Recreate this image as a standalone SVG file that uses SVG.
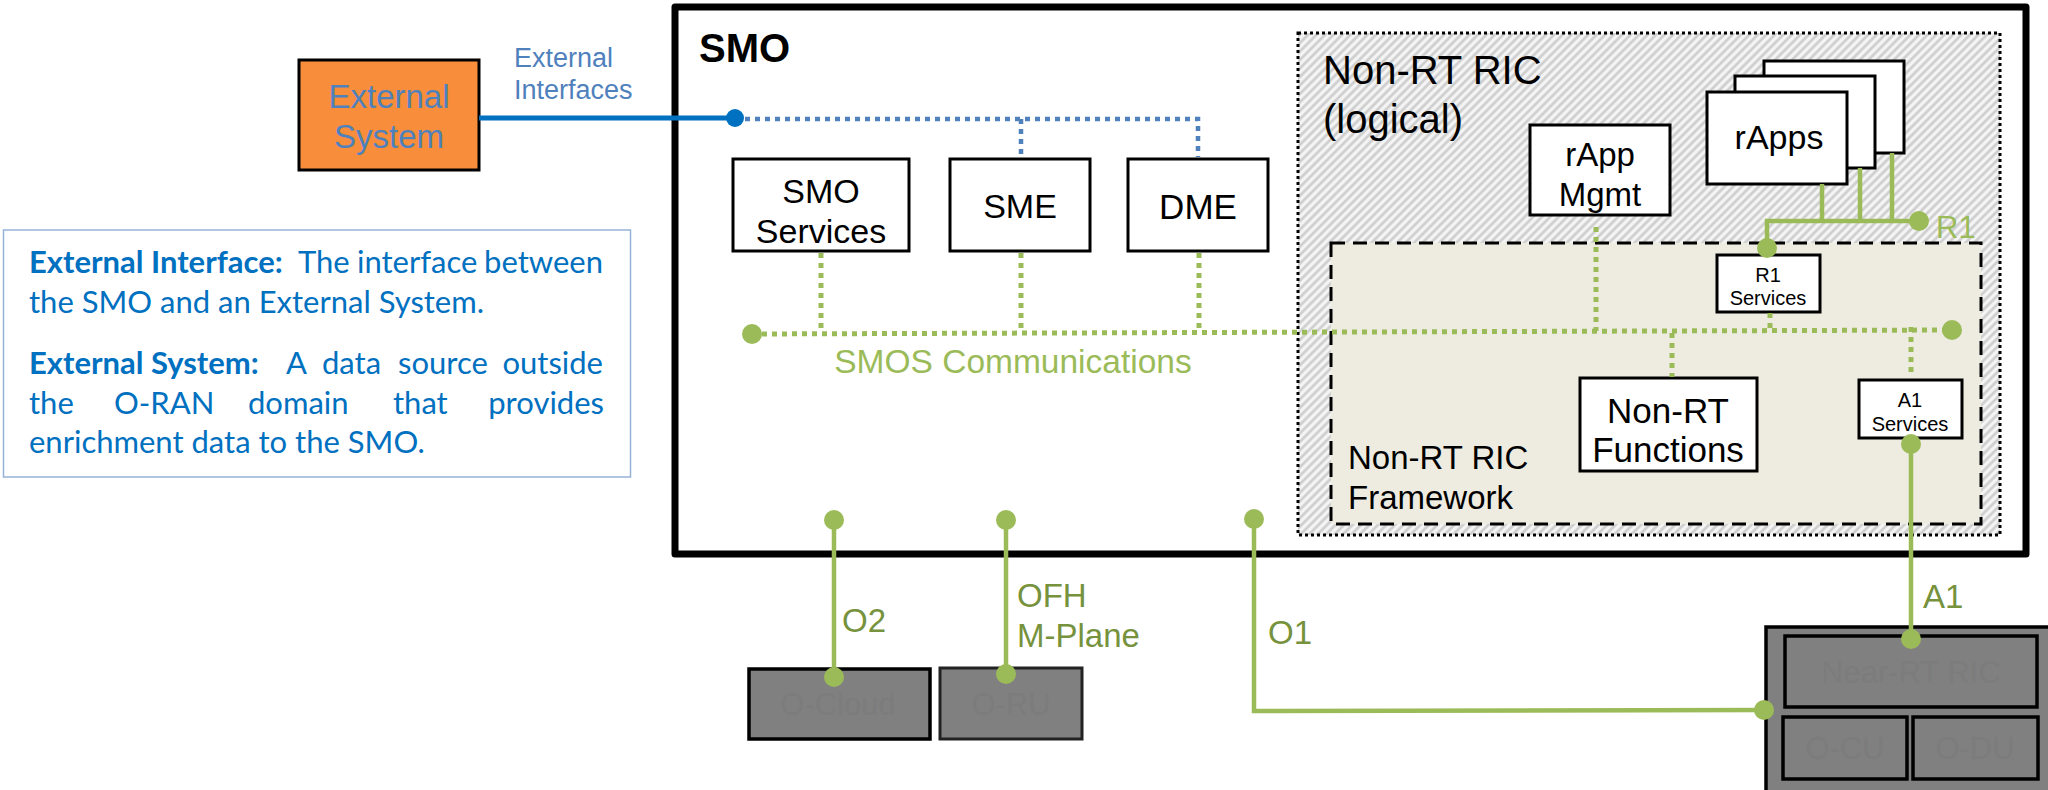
<svg xmlns="http://www.w3.org/2000/svg" width="2048" height="790" viewBox="0 0 2048 790">
<defs>
<pattern id="hatch" width="6" height="6" patternUnits="userSpaceOnUse" patternTransform="rotate(45)">
<rect width="6" height="6" fill="#f4f4f4"/>
<line x1="1.5" y1="0" x2="1.5" y2="6" stroke="#cdcdcd" stroke-width="2.6"/>
</pattern>
</defs>
<style>
.t{font-family:"Liberation Sans",Arial,sans-serif;fill:#000}
.box{fill:#fff;stroke:#000;stroke-width:3}
.gray{fill:#808080;stroke:#000;stroke-width:3.5}
.faint{font-family:"Liberation Sans",Arial,sans-serif;fill:#7c7c7c;font-size:31px;text-anchor:middle}
.gsolid{fill:none;stroke:#9BBB59;stroke-width:4.5}
.gdot{fill:none;stroke:#9BBB59;stroke-width:5;stroke-dasharray:5 5}
.bdot{fill:none;stroke:#4F81BD;stroke-width:4.5;stroke-dasharray:5 5}
.gd{fill:#9BBB59}
.lbl{font-family:"Liberation Sans",Arial,sans-serif;fill:#76923C;font-size:33px}
.desc{font-family:Lato,"Open Sans",sans-serif;fill:#0070C0;font-size:31px}
.c{text-anchor:middle}
</style>

<g id="smo">
<rect x="675" y="7" width="1351" height="547" fill="#fff" stroke="#000" stroke-width="7" stroke-linejoin="round"/>
<text class="t" x="699" y="62" font-size="40" font-weight="bold">SMO</text>
</g>

<g id="non-rt-ric">
<rect x="1298" y="33" width="702" height="502" fill="url(#hatch)" stroke="#000" stroke-width="3" stroke-dasharray="3 3"/>
<text class="t" x="1323" y="84" font-size="40">Non-RT RIC</text>
<text class="t" x="1323" y="133" font-size="40">(logical)</text>
</g>

<g id="non-rt-ric-framework">
<rect x="1331" y="243" width="650" height="281" fill="#EEECE1" stroke="#000" stroke-width="3" stroke-dasharray="14 8"/>
<text class="t" x="1348" y="469" font-size="33">Non-RT RIC</text>
<text class="t" x="1348" y="509" font-size="33">Framework</text>
</g>

<g id="external-system">
<rect x="299" y="60" width="180" height="110" fill="#F88D3B" stroke="#000" stroke-width="3"/>
<text class="t c" x="389" y="108" font-size="33" style="fill:#4F81BD">External</text>
<text class="t c" x="389" y="148" font-size="33" style="fill:#4F81BD">System</text>
</g>

<g id="external-interfaces-label">
<text class="t" x="514" y="67" font-size="27" style="fill:#4F81BD">External</text>
<text class="t" x="514" y="99" font-size="27" style="fill:#4F81BD">Interfaces</text>
</g>

<g id="smo-services">
<rect class="box" x="733" y="159" width="176" height="92"/>
<text class="t c" x="821" y="203" font-size="34">SMO</text>
<text class="t c" x="821" y="243" font-size="34">Services</text>
</g>

<g id="sme">
<rect class="box" x="950" y="159" width="140" height="92"/>
<text class="t c" x="1020" y="218" font-size="34">SME</text>
</g>

<g id="dme">
<rect class="box" x="1128" y="159" width="140" height="92"/>
<text class="t c" x="1198" y="219" font-size="35">DME</text>
</g>

<g id="rapp-mgmt">
<rect class="box" x="1530" y="125" width="140" height="90"/>
<text class="t c" x="1600" y="166" font-size="33">rApp</text>
<text class="t c" x="1600" y="206" font-size="33">Mgmt</text>
</g>

<g id="rapps">
<rect class="box" x="1764" y="61" width="140" height="92"/>
<rect class="box" x="1735" y="76" width="140" height="92"/>
<rect class="box" x="1707" y="92" width="140" height="92"/>
<text class="t c" x="1779" y="149" font-size="34">rApps</text>
</g>

<g id="r1-services">
<rect class="box" x="1717" y="255" width="103" height="57"/>
<text class="t c" x="1768" y="282" font-size="20">R1</text>
<text class="t c" x="1768" y="305" font-size="20">Services</text>
</g>

<g id="non-rt-functions">
<rect class="box" x="1580" y="378" width="177" height="93"/>
<text class="t c" x="1668" y="423" font-size="35">Non-RT</text>
<text class="t c" x="1668" y="462" font-size="35">Functions</text>
</g>

<g id="a1-services">
<rect class="box" x="1859" y="380" width="103" height="58"/>
<text class="t c" x="1910" y="407" font-size="20">A1</text>
<text class="t c" x="1910" y="431" font-size="20">Services</text>
</g>

<g id="o-cloud">
<rect class="gray" x="749" y="669" width="181" height="70"/>
<text class="faint" x="838" y="715">O-Cloud</text>
</g>

<g id="o-ru">
<rect class="gray" x="940" y="668" width="142" height="71" style="stroke:#222;stroke-width:3"/>
<text class="faint" x="1011" y="715">O-RU</text>
</g>

<g id="ran-node">
<rect class="gray" x="1766" y="627" width="300" height="180"/>
<rect class="gray" x="1785" y="636" width="252" height="71" stroke-width="3"/>
<text class="faint" x="1911" y="683">Near-RT RIC</text>
<rect class="gray" x="1783" y="717" width="124" height="62" stroke-width="3"/>
<text class="faint" x="1845" y="759">O-CU</text>
<rect class="gray" x="1913" y="717" width="125" height="62" stroke-width="3"/>
<text class="faint" x="1975" y="759">O-DU</text>
</g>

<g id="connectors">
<line x1="479" y1="118" x2="735" y2="118" stroke="#0070C0" stroke-width="5"/>
<polyline class="bdot" points="735,119 1198,119 1198,157"/>
<line class="bdot" x1="1021" y1="119" x2="1021" y2="157"/>
<circle cx="735" cy="118" r="9" fill="#0070C0"/>

<line class="gdot" x1="752" y1="334" x2="1952" y2="330"/>
<line class="gdot" x1="821" y1="253" x2="821" y2="333"/>
<line class="gdot" x1="1021" y1="253" x2="1021" y2="332"/>
<line class="gdot" x1="1199" y1="253" x2="1199" y2="332"/>
<line class="gdot" x1="1596" y1="227" x2="1596" y2="331"/>
<line class="gdot" x1="1770" y1="313" x2="1770" y2="331"/>
<line class="gdot" x1="1672" y1="333" x2="1672" y2="377"/>
<line class="gdot" x1="1911" y1="327" x2="1911" y2="372"/>
<circle class="gd" cx="752" cy="334" r="10"/>
<circle class="gd" cx="1952" cy="330" r="10"/>
<text x="1013" y="373" font-family="Liberation Sans, Arial, sans-serif" font-size="33.5" fill="#9BBB59" text-anchor="middle">SMOS Communications</text>

<polyline class="gsolid" points="1919,221 1767,221 1767,248"/>
<line class="gsolid" x1="1822" y1="184" x2="1822" y2="221"/>
<line class="gsolid" x1="1860" y1="168" x2="1860" y2="221"/>
<line class="gsolid" x1="1892" y1="153" x2="1892" y2="221"/>
<circle class="gd" cx="1919" cy="221" r="10"/>
<circle class="gd" cx="1767" cy="248" r="10"/>
<text x="1936" y="238" font-family="Liberation Sans, Arial, sans-serif" font-size="31" fill="#9BBB59">R1</text>

<line class="gsolid" x1="834" y1="520" x2="834" y2="677"/>
<circle class="gd" cx="834" cy="520" r="10"/>
<circle class="gd" cx="834" cy="677" r="10"/>
<text class="lbl" x="842" y="632">O2</text>

<line class="gsolid" x1="1006" y1="520" x2="1006" y2="674"/>
<circle class="gd" cx="1006" cy="520" r="10"/>
<circle class="gd" cx="1006" cy="674" r="10"/>
<text class="lbl" x="1017" y="607">OFH</text>
<text class="lbl" x="1017" y="647">M-Plane</text>

<polyline class="gsolid" points="1254,519 1254,711 1764,710" stroke-width="5"/>
<circle class="gd" cx="1254" cy="519" r="10"/>
<circle class="gd" cx="1764" cy="710" r="10"/>
<text class="lbl" x="1268" y="644">O1</text>

<line class="gsolid" x1="1911" y1="444" x2="1911" y2="639"/>
<circle class="gd" cx="1911" cy="444" r="10"/>
<circle class="gd" cx="1911" cy="639" r="10"/>
<text class="lbl" x="1923" y="608">A1</text>
</g>

<g id="definitions">
<rect x="3.5" y="230" width="627" height="247" fill="#fff" stroke="#95B3D7" stroke-width="1.5"/>
<text class="desc" y="273"><tspan x="29" font-weight="bold">External Interface:</tspan><tspan x="298">The</tspan><tspan x="357">interface</tspan><tspan x="603" text-anchor="end">between</tspan></text>
<text class="desc" x="29" y="313">the SMO and an External System.</text>
<text class="desc" y="374"><tspan x="29" font-weight="bold">External System:</tspan><tspan x="286">A</tspan><tspan x="322">data</tspan><tspan x="398">source</tspan><tspan x="603" text-anchor="end">outside</tspan></text>
<text class="desc" y="414"><tspan x="29">the</tspan><tspan x="114">O-RAN</tspan><tspan x="248">domain</tspan><tspan x="393">that</tspan><tspan x="604" text-anchor="end">provides</tspan></text>
<text class="desc" x="29" y="453">enrichment data to the SMO.</text>
</g>
</svg>
